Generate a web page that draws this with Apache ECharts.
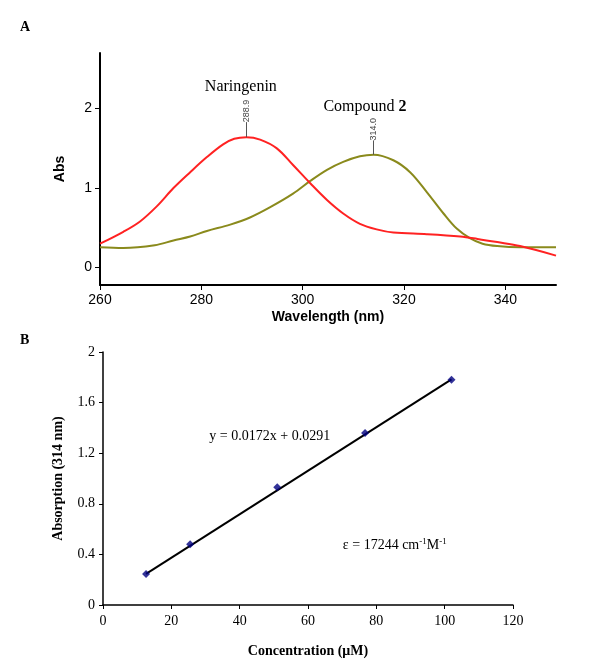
<!DOCTYPE html>
<html>
<head>
<meta charset="utf-8">
<script src="https://cdn.jsdelivr.net/npm/echarts@6/dist/echarts.min.js"></script>
<style>html,body{margin:0;padding:0;background:#fff}#c{width:600px;height:667px}</style>
</head>
<body>
<div id="c"></div>
<script>
// Panel A: UV spectra
const wlNar = [260,264.6,267.9,271.2,274.5,277.8,281.1,284.3,286.5,288.9,291.6,294.9,298.1,301.5,304.8,308,311.3,314.6,317.9,324.5,331.1,334.5,338.4,342.9,350];
const absNar = [0.30,0.45,0.58,0.77,1.00,1.20,1.39,1.55,1.62,1.64,1.61,1.50,1.29,1.06,0.85,0.68,0.55,0.48,0.44,0.42,0.39,0.36,0.32,0.27,0.15];
const wlCmp = [260,264.6,270.8,274.5,277.8,281.1,285.7,289.6,293.6,298.1,301.5,304.8,308,311.3,314,317.9,321.2,324.5,327.8,330.4,333,335.5,338.4,342.9,350];
const absCmp = [0.255,0.245,0.28,0.34,0.39,0.46,0.54,0.63,0.76,0.93,1.09,1.23,1.33,1.40,1.42,1.35,1.20,0.95,0.68,0.49,0.37,0.30,0.27,0.255,0.255];
const peakNar = [288.9, 1.64];
const peakCmp = [314.0, 1.42];
const xTicksA = [260,280,300,320,340];
const yTicksA = [0,1,2];

// Panel B: calibration
const concX = [12.6, 25.5, 51.0, 76.7, 102.0];
const absY = [0.245, 0.48, 0.93, 1.36, 1.78];
const trendX = [12.6, 102.0];
const trendY = [0.246, 1.784];
const equationText = 'y = 0.0172x + 0.0291';

const chart = echarts.init(document.getElementById('c'), null, {renderer:'canvas'});
const arial = 'Liberation Sans, Arial, sans-serif';
const times = 'Liberation Serif, Times New Roman, serif';

function pair(xs, ys){ return xs.map((x,i)=>[x, ys[i]]); }

const option = {
  animation: false,
  backgroundColor: '#fff',
  title: [
    {text:'A', left:15, top:15, textStyle:{fontFamily:times, fontWeight:'bold', fontSize:14, color:'#000'}},
    {text:'B', left:15, top:328, textStyle:{fontFamily:times, fontWeight:'bold', fontSize:14, color:'#000'}}
  ],
  grid: [
    {left:100, top:53, width:456, height:232},
    {left:103, top:352, width:410, height:253}
  ],
  xAxis: [
    {gridIndex:0, type:'value', min:260, max:350,
     name:'Wavelength (nm)', nameLocation:'middle', nameGap:25,
     nameTextStyle:{fontFamily:arial, fontWeight:'bold', fontSize:14, color:'#000'},
     axisLine:{onZero:false, lineStyle:{color:'#000', width:2}},
     axisTick:{customValues:xTicksA, length:5, lineStyle:{color:'#000', width:1}},
     axisLabel:{customValues:xTicksA, margin:8, fontFamily:arial, fontSize:14, color:'#000'},
     splitLine:{show:false}},
    {gridIndex:1, type:'value', min:0, max:120, interval:20,
     name:'Concentration (μM)', nameLocation:'middle', nameGap:39,
     nameTextStyle:{fontFamily:times, fontWeight:'bold', fontSize:14, color:'#000'},
     axisLine:{onZero:false, lineStyle:{color:'#000', width:1.5}},
     axisTick:{length:4, lineStyle:{color:'#000'}},
     axisLabel:{margin:9, fontFamily:times, fontSize:14, color:'#000'},
     splitLine:{show:false}}
  ],
  yAxis: [
    {gridIndex:0, type:'value', min:-0.22, max:2.7,
     name:'Abs', nameLocation:'middle', nameGap:33,
     nameTextStyle:{fontFamily:arial, fontWeight:'bold', fontSize:14, color:'#000'},
     axisLine:{show:true, onZero:false, lineStyle:{color:'#000', width:2}},
     axisTick:{show:true, customValues:yTicksA, length:5, lineStyle:{color:'#000'}},
     axisLabel:{customValues:yTicksA, margin:8, fontFamily:arial, fontSize:14, color:'#000'},
     splitLine:{show:false}},
    {gridIndex:1, type:'value', min:0, max:2, interval:0.4,
     name:'Absorption (314 nm)', nameLocation:'middle', nameGap:38,
     nameTextStyle:{fontFamily:times, fontWeight:'bold', fontSize:14, color:'#000'},
     axisLine:{show:true, onZero:false, lineStyle:{color:'#000', width:1.5}},
     axisTick:{show:true, length:4, lineStyle:{color:'#000'}},
     axisLabel:{margin:8, fontFamily:times, fontSize:14, color:'#000'},
     splitLine:{show:false}}
  ],
  series: [
    {type:'line', xAxisIndex:0, yAxisIndex:0, data:pair(wlNar, absNar), smooth:0.35, showSymbol:false,
     lineStyle:{color:'#ff2222', width:2}, itemStyle:{color:'#ff2222'}, z:3,
     markLine:{silent:true, symbol:'none', label:{show:false}, lineStyle:{color:'#555', width:1, type:'solid'},
       data:[[{coord:[peakNar[0], peakNar[1]]},{coord:[peakNar[0], peakNar[1]+0.19]}]]},
     markPoint:{silent:true, symbol:'rect', symbolSize:0,
       data:[
         {coord:[peakNar[0], 1.97], label:{show:true, formatter:String(peakNar[0].toFixed(1)), rotate:90, fontFamily:arial, fontSize:9, color:'#444'}},
         {coord:[287.8, 2.28], label:{show:true, formatter:'Naringenin', fontFamily:times, fontSize:16, color:'#000'}}
       ]}},
    {type:'line', xAxisIndex:0, yAxisIndex:0, data:pair(wlCmp, absCmp), smooth:0.35, showSymbol:false,
     lineStyle:{color:'#8a8a1c', width:2}, itemStyle:{color:'#8a8a1c'}, z:2,
     markLine:{silent:true, symbol:'none', label:{show:false}, lineStyle:{color:'#555', width:1, type:'solid'},
       data:[[{coord:[peakCmp[0], peakCmp[1]]},{coord:[peakCmp[0], peakCmp[1]+0.18]}]]},
     markPoint:{silent:true, symbol:'rect', symbolSize:0,
       data:[
         {coord:[peakCmp[0], 1.74], label:{show:true, formatter:String(peakCmp[0].toFixed(1)), rotate:90, fontFamily:arial, fontSize:9, color:'#444'}},
         {coord:[312.3, 2.02], label:{show:true, formatter:'{a|Compound }{b|2}',
            rich:{a:{fontFamily:times, fontSize:16, color:'#000'}, b:{fontFamily:times, fontSize:16, fontWeight:'bold', color:'#000'}}}}
       ]}},
    {type:'line', xAxisIndex:1, yAxisIndex:1, data:pair(trendX, trendY), showSymbol:false,
     lineStyle:{color:'#000', width:2}, z:2,
     markPoint:{silent:true, symbol:'rect', symbolSize:0,
       data:[
         {coord:[48.8, 1.33], label:{show:true, formatter:equationText, fontFamily:times, fontSize:14, color:'#000'}},
         {coord:[85.4, 0.47], label:{show:true, formatter:'ε = 17244 cm{s|-1}M{s|-1}',
            rich:{s:{fontFamily:times, fontSize:9, color:'#000', verticalAlign:'top', padding:[0,0,7,0]}},
            fontFamily:times, fontSize:14, color:'#000'}}
       ]}},
    {type:'scatter', xAxisIndex:1, yAxisIndex:1, data:pair(concX, absY), symbol:'diamond', symbolSize:8,
     itemStyle:{color:'#000080'}, z:4}
  ]
};
chart.setOption(option);
</script>
</body>
</html>
